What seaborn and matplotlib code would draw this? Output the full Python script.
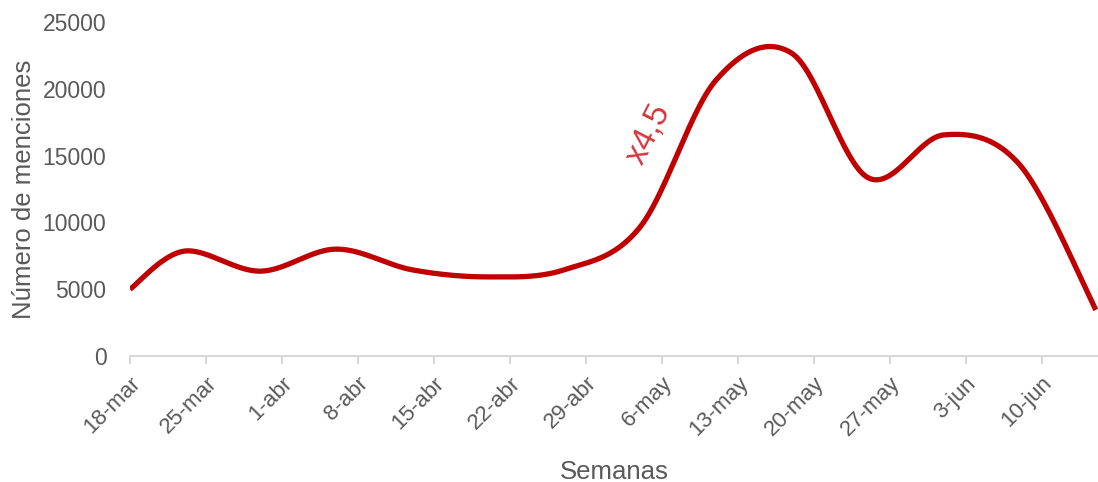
import numpy as np
import pandas as pd
import matplotlib
matplotlib.use("Agg")
import matplotlib.pyplot as plt
import seaborn as sns

# datos semanales (lectura del gráfico): inicio el lunes 18-mar, luego cierres de semana (sábados)
fechas = ["2024-03-18", "2024-03-23", "2024-03-30", "2024-04-06", "2024-04-13",
          "2024-04-20", "2024-04-27", "2024-05-04", "2024-05-11", "2024-05-18",
          "2024-05-25", "2024-06-01", "2024-06-08", "2024-06-15"]
menciones = [5000, 7850, 6350, 8000, 6450, 5920, 6450, 9650, 20650, 22650,
             13350, 16550, 14300, 3450]
etiquetas_x = ["18-mar", "25-mar", "1-abr", "8-abr", "15-abr", "22-abr", "29-abr",
               "6-may", "13-may", "20-may", "27-may", "3-jun", "10-jun"]
etiquetas_y = [0, 5000, 10000, 15000, 20000, 25000]

GRIS = "#595959"
ROJO = "#C00000"


def curva_suave(x, y, n=60):
    # línea suavizada tipo Excel (Bezier con tangentes 1/6)
    P = np.column_stack([x, y]).astype(float)
    P = np.vstack([P[0], P, P[-1]])
    xs, ys = [], []
    t = np.linspace(0, 1, n)[:, None]
    for i in range(1, len(P) - 2):
        p0, p1 = P[i], P[i + 1]
        c1 = p0 + (P[i + 1] - P[i - 1]) / 6
        c2 = p1 - (P[i + 2] - P[i]) / 6
        seg = ((1 - t) ** 3) * p0 + 3 * ((1 - t) ** 2) * t * c1 + 3 * (1 - t) * t ** 2 * c2 + t ** 3 * p1
        xs.append(seg[:, 0])
        ys.append(seg[:, 1])
    return np.concatenate(xs), np.concatenate(ys)


def main():
    sns.set_theme(style="white")
    plt.rcParams["font.family"] = ["Liberation Sans", "DejaVu Sans"]

    d = pd.to_datetime(pd.Series(fechas))
    dias = (d - d.iloc[0]).dt.days.values
    xs, ys = curva_suave(dias, menciones)
    df = pd.DataFrame({"dia": xs, "valor": ys})

    fig = plt.figure(figsize=(10.98, 4.82), dpi=100)
    ax = fig.add_axes([130 / 1098, 1 - 356 / 482, 1 - 130 / 1098, (356 - 22) / 482])
    sns.lineplot(data=df, x="dia", y="valor", sort=False, estimator=None,
                 color=ROJO, linewidth=3.8, ax=ax)
    ax.lines[0].set_solid_capstyle("butt")

    ax.set_xlim(0, 89.2)
    ax.set_ylim(0, 25000)
    ticks_x = np.arange(len(etiquetas_x)) * 7
    ax.set_xticks(ticks_x)
    ax.set_xticklabels(etiquetas_x, rotation=45, ha="right", rotation_mode="anchor",
                       fontsize=16, color=GRIS)
    ax.set_yticks(etiquetas_y)
    ax.set_yticklabels([str(v) for v in etiquetas_y], fontsize=16.5, color=GRIS)

    for s in ["top", "right", "left"]:
        ax.spines[s].set_visible(False)
    ax.spines["bottom"].set_color("#d9d9d9")
    ax.spines["bottom"].set_linewidth(1.5)
    ax.tick_params(axis="x", length=6, width=1.5, color="#d9d9d9", pad=6, direction="out", bottom=True)
    ax.tick_params(axis="y", length=0, pad=17)
    ax.grid(False)

    ax.set_xlabel("Semanas", fontsize=18.5, color=GRIS, labelpad=14)
    ax.set_ylabel("Número de menciones", fontsize=18.5, color=GRIS)
    ax.yaxis.set_label_coords(-0.097, 0.5)

    ax.text(47.8, 16650, "x4,5", color="#D0393E", fontsize=24, rotation=63,
            ha="center", va="center")

    fig.savefig("out.png", dpi=100)
    plt.close(fig)


if __name__ == "__main__":
    main()
